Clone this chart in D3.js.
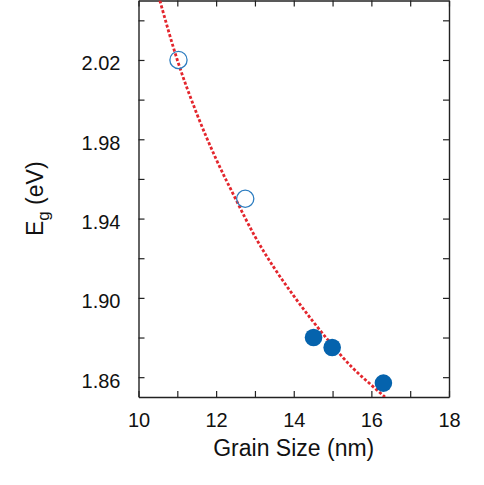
<!DOCTYPE html>
<html lang="en">
<head>
  <meta charset="UTF-8">
  <title>Eg vs Grain Size</title>
  <script src="https://d3js.org/d3.v7.min.js"></script>
  <style>
    body { margin: 0; background: #fff; }
    text { font-family: "Liberation Sans", Arial, Helvetica, sans-serif; fill: #111; }
  </style>
</head>
<body>
<div id="chart"></div>
<script>
  // Open circles (first two samples)
  const openSize = [11.03, 12.75];
  const openEg = [2.020, 1.950];

  // Filled circles
  const filledSize = [14.51, 14.99, 16.31];
  const filledEg = [1.880, 1.875, 1.857];

  // Red dashed fit line
  const fitSize = [10.55, 11.0, 11.5, 12.0, 12.5, 13.0, 13.5, 14.0, 14.5, 15.0, 15.5, 16.0, 16.35];
  const fitEg = [2.050, 2.020, 1.993, 1.970, 1.950, 1.931, 1.915, 1.901, 1.888, 1.876, 1.865, 1.856, 1.850];

  const xTicks = [10, 11, 12, 13, 14, 15, 16, 17, 18];
  const xLabels = [10, 12, 14, 16, 18];
  const yTicks = [1.86, 1.88, 1.90, 1.92, 1.94, 1.96, 1.98, 2.00, 2.02, 2.04];
  const yLabels = [1.86, 1.90, 1.94, 1.98, 2.02];

  const W = 484, H = 485;
  const pL = 138.5, pR = 449, pT = 0.5, pB = 397;

  const svg = d3.select('#chart').append('svg')
    .attr('width', W)
    .attr('height', H);

  const x = d3.scaleLinear().domain([10, 18]).range([pL, pR]);
  const y = d3.scaleLinear().domain([1.85, 2.05]).range([pB, pT]);

  svg.append('clipPath').attr('id', 'plot')
    .append('rect')
    .attr('x', pL).attr('y', pT)
    .attr('width', pR - pL).attr('height', pB - pT);

  // axes (ticks point inward)
  const fmtX = d => xLabels.includes(d) ? d : '';
  const fmtY = d => yLabels.some(v => Math.abs(v - d) < 1e-6) ? d.toFixed(2) : '';

  const axB = svg.append('g')
    .attr('transform', `translate(0,${pB})`)
    .call(d3.axisBottom(x).tickValues(xTicks).tickFormat(fmtX).tickSizeInner(-6).tickSizeOuter(0).tickPadding(16));
  const axT = svg.append('g')
    .attr('transform', `translate(0,${pT})`)
    .call(d3.axisTop(x).tickValues(xTicks).tickFormat('').tickSizeInner(-6).tickSizeOuter(0));
  const axL = svg.append('g')
    .attr('transform', `translate(${pL},0)`)
    .call(d3.axisLeft(y).tickValues(yTicks).tickFormat(fmtY).tickSizeInner(-6).tickSizeOuter(0).tickPadding(18));
  const axR = svg.append('g')
    .attr('transform', `translate(${pR},0)`)
    .call(d3.axisRight(y).tickValues(yTicks).tickFormat('').tickSizeInner(-6).tickSizeOuter(0));

  [axB, axT, axL, axR].forEach(g => {
    g.selectAll('.domain').attr('stroke', '#222').attr('stroke-width', 1.4);
    g.selectAll('.tick line').attr('stroke', '#222').attr('stroke-width', 1.2);
    g.selectAll('text')
      .attr('font-family', '"Liberation Sans", Arial, Helvetica, sans-serif')
      .attr('font-size', 20)
      .attr('fill', '#111');
  });
  axL.selectAll('text').attr('dy', '0.5em');
  axB.selectAll('text').attr('dy', '0.68em');

  // fit line
  const fit = fitSize.map((d, i) => ({ s: d, e: fitEg[i] }));
  const line = d3.line()
    .x(d => x(d.s))
    .y(d => y(d.e))
    .curve(d3.curveMonotoneX);

  svg.append('path')
    .datum(fit)
    .attr('clip-path', 'url(#plot)')
    .attr('fill', 'none')
    .attr('stroke', '#e3262d')
    .attr('stroke-width', 2.8)
    .attr('stroke-dasharray', '3,2')
    .attr('d', line);

  // open circles
  svg.selectAll('circle.open')
    .data(openSize.map((d, i) => ({ s: d, e: openEg[i] })))
    .enter().append('circle')
    .attr('class', 'open')
    .attr('cx', d => x(d.s))
    .attr('cy', d => y(d.e))
    .attr('r', 8.6)
    .attr('fill', 'none')
    .attr('stroke', '#2d7dc0')
    .attr('stroke-width', 1.3);

  // filled circles
  svg.selectAll('circle.filled')
    .data(filledSize.map((d, i) => ({ s: d, e: filledEg[i] })))
    .enter().append('circle')
    .attr('class', 'filled')
    .attr('cx', d => x(d.s))
    .attr('cy', d => y(d.e))
    .attr('r', 8.8)
    .attr('fill', '#0563ad');

  // axis titles
  svg.append('text')
    .attr('x', (pL + pR) / 2)
    .attr('y', 456)
    .attr('text-anchor', 'middle')
    .attr('font-size', 23)
    .text('Grain Size (nm)');

  const yt = svg.append('text')
    .attr('transform', `translate(43,${(pT + pB) / 2}) rotate(-90)`)
    .attr('text-anchor', 'middle')
    .attr('font-size', 23);
  yt.append('tspan').text('E');
  yt.append('tspan').attr('font-size', 17).attr('dy', 6).text('g');
  yt.append('tspan').attr('dy', -6).text(' (eV)');
</script>
</body>
</html>
